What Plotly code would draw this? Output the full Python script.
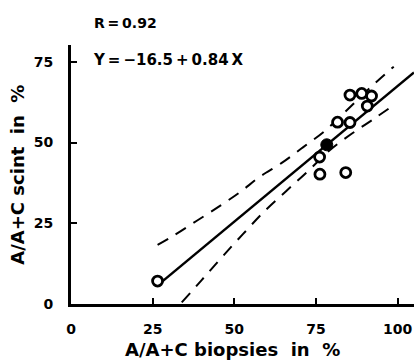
import plotly.graph_objects as go

# ---- data ----
biopsy_open = [26.5, 76.2, 76.1, 81.6, 84.1, 85.4, 85.4, 89.0, 90.7, 92.0]
scint_open = [7.1, 40.2, 45.5, 56.3, 40.7, 56.2, 64.7, 65.2, 61.3, 64.4]
biopsy_filled = [78.3]
scint_filled = [49.3]

intercept = -16.5
slope = 0.84
fit_x = [26.5, 105.0]

upper_x = [26.5, 31.3, 38.4, 45.6, 51.7, 57.8, 64.4, 71.0, 77.7, 83.8, 91.4, 98.8]
upper_y = [18.3, 21.1, 25.7, 30.4, 34.6, 39.4, 43.6, 48.5, 53.6, 59.4, 66.8, 73.5]
lower_x = [33.9, 40.0, 46.1, 52.7, 59.3, 66.0, 72.6, 79.2, 85.9, 92.5, 99.1]
lower_y = [0.5, 7.4, 14.4, 21.7, 28.8, 35.1, 41.2, 47.6, 52.7, 57.2, 61.8]

x_ticks = [0, 25, 50, 75, 100]
y_ticks = [0, 25, 50, 75]

FONT = "DejaVu Sans, Arial, sans-serif"

fig = go.Figure()
fig.add_trace(go.Scatter(x=upper_x, y=upper_y, mode="lines", line_shape="spline",
                         line=dict(color="black", width=2, dash="12px,9px")))
fig.add_trace(go.Scatter(x=lower_x, y=lower_y, mode="lines", line_shape="spline",
                         line=dict(color="black", width=2, dash="12px,9px")))
fig.add_trace(go.Scatter(x=fit_x, y=[intercept + slope * v for v in fit_x], mode="lines",
                         line=dict(color="black", width=2.5)))
fig.add_trace(go.Scatter(x=biopsy_open, y=scint_open, mode="markers",
                         marker=dict(size=10, color="white",
                                     line=dict(color="black", width=2.8))))
fig.add_trace(go.Scatter(x=biopsy_filled, y=scint_filled, mode="markers",
                         marker=dict(size=12, color="black",
                                     line=dict(color="black", width=1))))

axis_common = dict(showgrid=False, zeroline=False, showline=True, linecolor="black",
                   linewidth=3, ticks="inside", ticklen=6, tickwidth=2, tickcolor="black",
                   tickfont=dict(family=FONT, size=14, color="black", weight="bold"))

fig.update_xaxes(range=[0, 105], tickvals=x_ticks, ticktext=[str(v) for v in x_ticks],
                 ticklabelstandoff=10, **axis_common)
fig.update_yaxes(range=[0, 80.2], tickvals=y_ticks, ticktext=[str(v) for v in y_ticks],
                 ticklabelstandoff=12, **axis_common)

fig.update_layout(
    width=414, height=362,
    margin=dict(l=71, r=0, t=45, b=58),
    paper_bgcolor="white", plot_bgcolor="white",
    showlegend=False,
    annotations=[
        dict(text="A/A+C biopsies\u00a0\u00a0in\u00a0\u00a0%", x=49.5, xref="x",
             y=0, yref="paper", yshift=-45, showarrow=False,
             font=dict(family=FONT, size=18, color="black", weight="bold"),
             xanchor="center", yanchor="middle"),
        dict(text="A/A+C scint\u00a0\u00a0in\u00a0\u00a0%", x=-0.157, xref="paper",
             y=0.5, yref="paper", textangle=-90, showarrow=False,
             font=dict(family=FONT, size=18, color="black", weight="bold"),
             xanchor="center", yanchor="middle"),
        dict(text="R\u2009=\u20090.92", x=0.06, xref="paper", y=1.085, yref="paper",
             showarrow=False, xanchor="left", yanchor="middle",
             font=dict(family=FONT, size=14, color="black", weight="bold")),
        dict(text="Y\u2009=\u2009\u221216.5\u2009+\u20090.84\u2009X", x=0.058, xref="paper",
             y=75.5, yref="y", showarrow=False, xanchor="left", yanchor="middle",
             font=dict(family=FONT, size=15, color="black", weight="bold")),
    ],
)

fig.write_html("out.html")
